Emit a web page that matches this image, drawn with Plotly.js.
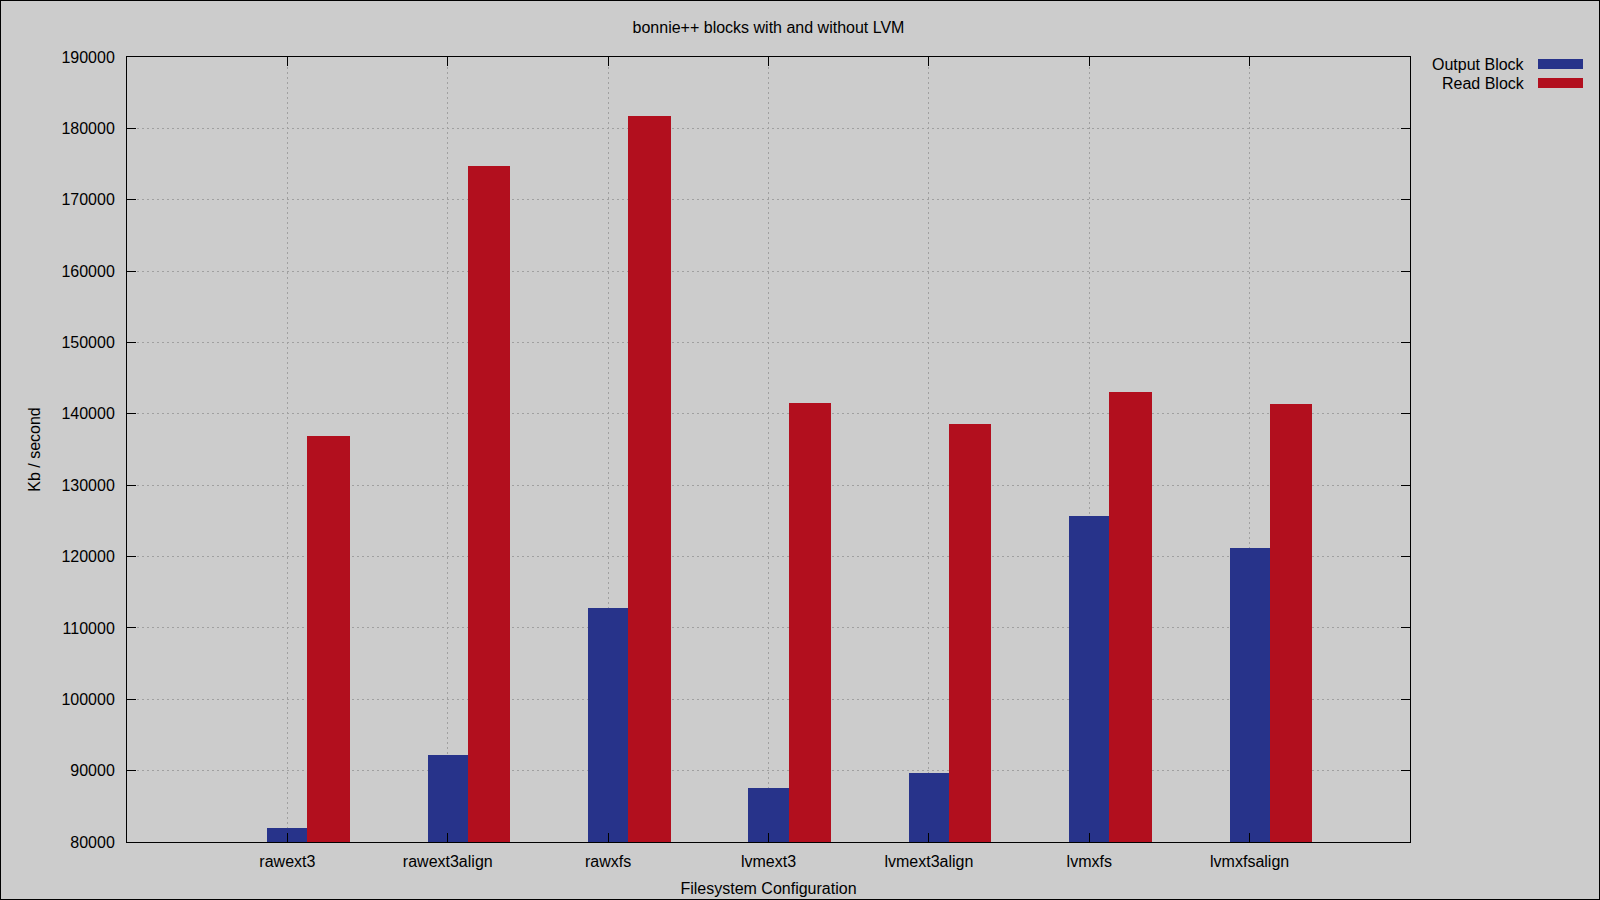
<!DOCTYPE html>
<html>
<head>
<meta charset="utf-8">
<script src="https://cdn.plot.ly/plotly-3.0.1.min.js"></script>
<style>
  html, body { margin: 0; padding: 0; background: #cccccc; }
  #frame { position: absolute; left: 0; top: 0; width: 1600px; height: 900px; box-sizing: border-box; border: 1px solid #000; background: #cccccc; }
  #chart { width: 1598px; height: 898px; }
</style>
</head>
<body>
<div id="frame"><div id="chart"></div></div>
<script>
const categories = ['rawext3', 'rawext3align', 'rawxfs', 'lvmext3', 'lvmext3align', 'lvmxfs', 'lvmxfsalign'];
const seriesNames = ['Output Block', 'Read Block'];
const outputBlock = [81960, 92140, 112840, 87570, 89710, 125650, 121160];
const readBlock = [136960, 174740, 181715, 141580, 138640, 143125, 141440];
const yTickVals = [80000, 90000, 100000, 110000, 120000, 130000, 140000, 150000, 160000, 170000, 180000, 190000];

const colors = ['#27338a', '#b20f1e'];
const xIdx = categories.map((c, i) => i);
const FONT = 'Liberation Sans, Arial, sans-serif';
const FS = 16;

const traces = [
  { type: 'bar', name: seriesNames[0], x: xIdx, y: outputBlock, width: 0.25, offset: -0.125,
    marker: { color: colors[0], line: { width: 0 } }, showlegend: false },
  { type: 'bar', name: seriesNames[1], x: xIdx, y: readBlock, width: 0.265, offset: 0.125,
    marker: { color: colors[1], line: { width: 0 } }, showlegend: false }
];

const W = 1598, H = 898;
const m = { l: 126, r: 189, t: 56, b: 57 };
const pw = W - m.l - m.r, ph = H - m.t - m.b;
const px = v => (v - m.l) / pw;
const py = v => (H - m.b - v) / ph;

const annotations = [];
const shapes = [];
seriesNames.forEach((n, i) => {
  const yc = 63 + i * 19;
  annotations.push({ xref: 'paper', yref: 'paper', x: px(1526), y: py(yc), xanchor: 'right', yanchor: 'middle',
    text: n, showarrow: false, font: { family: FONT, size: FS, color: '#000' } });
  shapes.push({ type: 'rect', xref: 'paper', yref: 'paper', x0: px(1537), x1: px(1582), y0: py(yc - 5), y1: py(yc + 5),
    fillcolor: colors[i], line: { width: 0 } });
});

const axisCommon = {
  showline: true, linecolor: '#000', linewidth: 1, mirror: 'ticks',
  ticks: 'inside', ticklen: 9, tickcolor: '#000', tickwidth: 1,
  showgrid: true, gridcolor: '#a0a0a0', gridwidth: 1, griddash: '2px,3px',
  zeroline: false, tickfont: { family: FONT, size: FS, color: '#000' }
};

const layout = {
  width: W, height: H, margin: m,
  paper_bgcolor: '#cccccc', plot_bgcolor: '#cccccc',
  font: { family: FONT, size: FS, color: '#000' },
  title: { text: 'bonnie++ blocks with and without LVM', font: { family: FONT, size: FS, color: '#000' },
    xref: 'paper', x: 0.5, xanchor: 'center', yref: 'container', y: 1 - 26 / H, yanchor: 'middle' },
  barmode: 'overlay',
  bargap: 0,
  xaxis: Object.assign({}, axisCommon, {
    range: [-1, 7], tickvals: xIdx, ticktext: categories, ticklabelstandoff: 5,
    title: { text: 'Filesystem Configuration', font: { family: FONT, size: FS, color: '#000' }, standoff: 13 }
  }),
  yaxis: Object.assign({}, axisCommon, {
    range: [80000, 190000], tickvals: yTickVals, tickformat: 'd', ticklabelstandoff: 8,
    title: { text: 'Kb / second', font: { family: FONT, size: FS, color: '#000' }, standoff: 16 }
  }),
  annotations: annotations,
  shapes: shapes
};

Plotly.newPlot('chart', traces, layout, { staticPlot: true, displayModeBar: false });
</script>
</body>
</html>
